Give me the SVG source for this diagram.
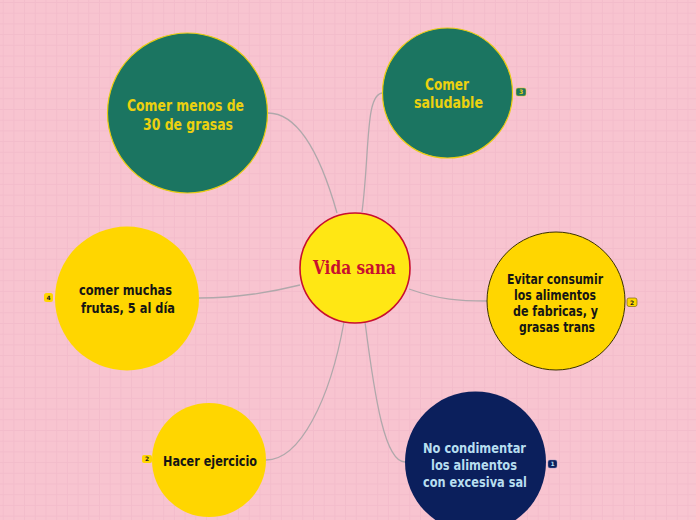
<svg xmlns="http://www.w3.org/2000/svg" width="696" height="520" viewBox="0 0 696 520">
  <defs>
    <pattern id="grid" x="2.7" y="2" width="10.7" height="10.7" patternUnits="userSpaceOnUse">
      <path d="M0 0.5H10.7M0.5 0V10.7" fill="none" stroke="#f3bccb" stroke-width="1"/>
    </pattern>
    <style>
      .conn { fill: none; stroke: #b0a8ab; stroke-width: 1.3; }
      .t { font-family: "DejaVu Sans Condensed", "DejaVu Sans", sans-serif; font-stretch: condensed; font-weight: bold; font-size: 13.5px; text-anchor: middle; }
      .tg { fill: #ecd10f; font-size: 15.5px; }
      .tk { fill: #151515; }
      .tb { fill: #b7def0; }
      .green { fill: #1b7561; stroke: #e8cc10; stroke-width: 1.2; }
      .yel { fill: #ffd600; }
      .navy { fill: #0b1f5c; }
      .badge-t { font-family: "DejaVu Sans", sans-serif; font-size: 6px; font-weight: bold; text-anchor: middle; }
    </style>
  </defs>
  <rect width="696" height="520" fill="#f8c4d0"/>
  <rect width="696" height="520" fill="url(#grid)"/>

  <g id="connectors">
    <path class="conn" d="M337 213 C 322 160 300 113 268 113"/>
    <path class="conn" d="M362 212 C 370 150 365 93 383 93"/>
    <path class="conn" d="M409 289 C 440 300 460 301 487 301"/>
    <path class="conn" d="M365 322 C 375 400 385 462 405 462"/>
    <path class="conn" d="M344 322 C 330 400 300 460 266 460"/>
    <path class="conn" d="M300 285 C 260 295 230 298 199 298"/>
  </g>

  <g id="node-center">
    <circle cx="355" cy="268" r="55" fill="#ffe714" stroke="#c8102e" stroke-width="1.6"/>
    <text x="354.5" y="274" font-family="'DejaVu Serif', serif" font-weight="bold" font-size="18" fill="#c8102e" text-anchor="middle" textLength="83" lengthAdjust="spacingAndGlyphs">Vida sana</text>
  </g>

  <g id="node-grasas">
    <circle class="green" cx="187.5" cy="113" r="80"/>
    <text class="t tg"><tspan x="185.5" y="110.5" textLength="117" lengthAdjust="spacingAndGlyphs">Comer menos de</tspan><tspan x="188" y="129.5" textLength="90" lengthAdjust="spacingAndGlyphs">30 de grasas</tspan></text>
  </g>

  <g id="node-saludable">
    <circle class="green" cx="447.5" cy="93" r="65"/>
    <text class="t tg"><tspan x="447" y="89.5" textLength="44" lengthAdjust="spacingAndGlyphs">Comer</tspan><tspan x="448.5" y="108" textLength="69" lengthAdjust="spacingAndGlyphs">saludable</tspan></text>
    <rect x="516" y="88" width="10" height="8" rx="2" fill="#1b7561" stroke="#e8cc10" stroke-width="0.5"/>
    <text class="badge-t" x="521" y="94.2" fill="#ecd10f">3</text>
  </g>

  <g id="node-evitar">
    <circle cx="556" cy="301" r="69" fill="#ffd600" stroke="#3a3000" stroke-width="1"/>
    <text class="t tk"><tspan x="555" y="283.5" textLength="96" lengthAdjust="spacingAndGlyphs">Evitar consumir</tspan><tspan x="555" y="299.5" textLength="82" lengthAdjust="spacingAndGlyphs">los alimentos</tspan><tspan x="555.5" y="315.5" textLength="85" lengthAdjust="spacingAndGlyphs">de fabricas, y</tspan><tspan x="557" y="332" textLength="76" lengthAdjust="spacingAndGlyphs">grasas trans</tspan></text>
    <rect x="627" y="298" width="10" height="8.5" rx="2" fill="#ffd600" stroke="#6a5a00" stroke-width="0.6"/>
    <text class="badge-t" x="632" y="304.5" fill="#222">2</text>
  </g>

  <g id="node-sal">
    <circle class="navy" cx="475.5" cy="462" r="70.5"/>
    <text class="t tb"><tspan x="474.5" y="453" textLength="103" lengthAdjust="spacingAndGlyphs">No condimentar</tspan><tspan x="474" y="470" textLength="86" lengthAdjust="spacingAndGlyphs">los alimentos</tspan><tspan x="475" y="487" textLength="104" lengthAdjust="spacingAndGlyphs">con excesiva sal</tspan></text>
    <rect x="548" y="460" width="9" height="8" rx="2" fill="#0b1f5c" stroke="#7a90c0" stroke-width="0.4"/>
    <text class="badge-t" x="552.5" y="466.2" fill="#b7def0">1</text>
  </g>

  <g id="node-ejercicio">
    <circle class="yel" cx="209" cy="460" r="57"/>
    <text class="t tk" x="210" y="466" font-size="15" textLength="94" lengthAdjust="spacingAndGlyphs">Hacer ejercicio</text>
    <rect x="142" y="455" width="10" height="8" rx="2" fill="#ffd600"/>
    <text class="badge-t" x="147" y="461.2" fill="#222">2</text>
  </g>

  <g id="node-frutas">
    <circle class="yel" cx="127" cy="298.5" r="72"/>
    <text class="t tk"><tspan x="125.5" y="295" textLength="93" lengthAdjust="spacingAndGlyphs">comer muchas</tspan><tspan x="128" y="313" textLength="94" lengthAdjust="spacingAndGlyphs">frutas, 5 al día</tspan></text>
    <rect x="44" y="293" width="9" height="9" rx="2.5" fill="#ffd600"/>
    <text class="badge-t" x="48.5" y="299.7" fill="#222">4</text>
  </g>
</svg>
